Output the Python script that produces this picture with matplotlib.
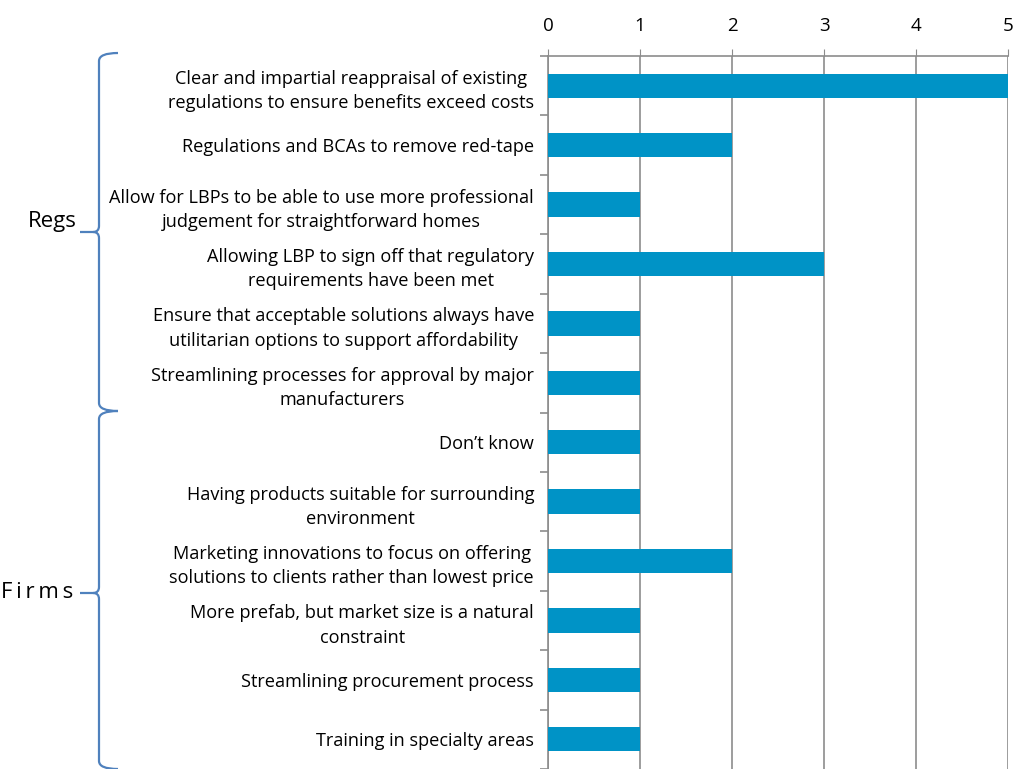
import matplotlib
matplotlib.use("Agg")
import matplotlib.pyplot as plt
from matplotlib.path import Path
from matplotlib.patches import PathPatch
import numpy as np

categories = [
    "Clear and impartial reappraisal of existing\nregulations to ensure benefits exceed costs",
    "Regulations and BCAs to remove red-tape",
    "Allow for LBPs to be able to use more professional\njudgement for straightforward homes",
    "Allowing LBP to sign off that regulatory\nrequirements have been met",
    "Ensure that acceptable solutions always have\nutilitarian options to support affordability",
    "Streamlining processes for approval by major\nmanufacturers",
    "Don\u2019t know",
    "Having products suitable for surrounding\nenvironment",
    "Marketing innovations to focus on offering\nsolutions to clients rather than lowest price",
    "More prefab, but market size is a natural\nconstraint",
    "Streamlining procurement process",
    "Training in specialty areas",
]
values = [5, 2, 1, 3, 1, 1, 1, 1, 2, 1, 1, 1]
groups = ["Regs", "F\u2009i\u2009r\u2009m\u2009s"]
group_sizes = [6, 6]
xticks = [0, 1, 2, 3, 4, 5]

plt.rcParams['font.family'] = ['Open Sans', 'DejaVu Sans']

W, H = 1017, 769
fig = plt.figure(figsize=(W / 100, H / 100), dpi=100)
ax_left, ax_right, ax_top, ax_bottom = 548, 1008, 56, 769
ax = fig.add_axes([ax_left / W, 1 - ax_bottom / H, (ax_right - ax_left) / W, (ax_bottom - ax_top) / H])

n = len(categories)
y = np.arange(n)
ax.barh(y, values, height=0.41, color="#0093C6", zorder=3)
ax.set_ylim(n - 0.5, -0.5)
ax.set_xlim(0, 5)
ax.xaxis.tick_top()
ax.set_xticks(xticks)
ax.set_xticklabels([str(t) for t in xticks], fontsize=13.5)
ax.tick_params(axis='x', length=5, color="#8C8C8C", pad=10)
ax.grid(axis='x', color="#8C8C8C", linewidth=1.2, zorder=0)

ax.set_yticks(np.arange(n + 1) - 0.5, minor=True)
ax.set_yticks(y)
ax.set_yticklabels(categories, fontsize=13.1, linespacing=1.45, multialignment='center')
ax.tick_params(axis='y', which='major', length=0, pad=10)
ax.tick_params(axis='y', which='minor', length=6, color="#8C8C8C", width=1.2)

for s in ['right', 'bottom']:
    ax.spines[s].set_visible(False)
for s in ['left', 'top']:
    ax.spines[s].set_color("#8C8C8C")
    ax.spines[s].set_linewidth(1.2)

def fx(px):
    return px / W

def fy(py):
    return 1 - py / H

brace_color = "#4F81BD"
starts = [53, 411]
ends = [411, 769]
label_x = [77, 73]
label_y = [222, 593]
for g, top, bot, lx, ly in zip(groups, starts, ends, label_x, label_y):
    mid = ly + 10 if g == "Regs" else ly
    xv = 99
    verts = [
        (fx(118), fy(top)), (fx(xv), fy(top)), (fx(xv), fy(top + 8)),
        (fx(xv), fy(mid - 6)),
        (fx(xv), fy(mid)), (fx(xv - 6), fy(mid)),
        (fx(80), fy(mid)),
        (fx(xv - 6), fy(mid)), (fx(xv), fy(mid)), (fx(xv), fy(mid + 6)),
        (fx(xv), fy(bot - 8)),
        (fx(xv), fy(bot)), (fx(118), fy(bot)),
    ]
    codes = [Path.MOVETO, Path.CURVE3, Path.CURVE3, Path.LINETO,
             Path.CURVE3, Path.CURVE3, Path.LINETO,
             Path.MOVETO, Path.CURVE3, Path.CURVE3, Path.LINETO,
             Path.CURVE3, Path.CURVE3]
    fig.add_artist(PathPatch(Path(verts, codes), transform=fig.transFigure,
                             fill=False, edgecolor=brace_color, linewidth=1.6))
    fig.text(fx(lx), fy(ly), g, ha='right', va='center', fontsize=16)

fig.savefig("out.png", dpi=100)
